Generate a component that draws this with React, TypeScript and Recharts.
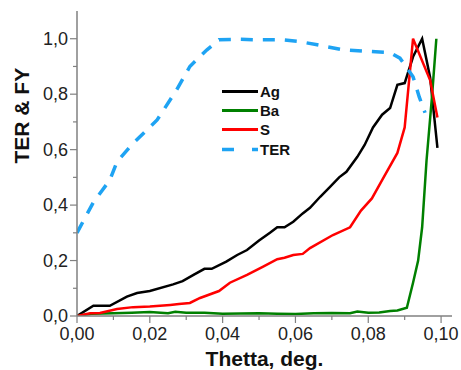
import React from 'react';
import { LineChart, Line, XAxis, YAxis, Legend } from 'recharts';

const xTicks = [0, 0.01, 0.02, 0.03, 0.04, 0.05, 0.06, 0.07, 0.08, 0.09, 0.1];
const yTicks = [0, 0.1, 0.2, 0.3, 0.4, 0.5, 0.6, 0.7, 0.8, 0.9, 1.0];

const agTheta = [0, 0.0045, 0.009, 0.0137, 0.0165, 0.02, 0.0264, 0.029, 0.032, 0.035, 0.037, 0.041, 0.044, 0.0467, 0.05, 0.053, 0.055, 0.057, 0.0594, 0.062, 0.064, 0.0668, 0.0695, 0.072, 0.074, 0.077, 0.079, 0.0813, 0.0838, 0.086, 0.088, 0.09, 0.0923, 0.0948, 0.097, 0.099];
const agValue = [0, 0.037, 0.037, 0.07, 0.083, 0.09, 0.114, 0.126, 0.148, 0.17, 0.17, 0.196, 0.22, 0.238, 0.272, 0.3, 0.32, 0.32, 0.34, 0.37, 0.39, 0.43, 0.466, 0.5, 0.52, 0.574, 0.617, 0.68, 0.726, 0.75, 0.834, 0.84, 0.935, 1.0, 0.86, 0.606];

const baTheta = [0, 0.004, 0.01, 0.015, 0.02, 0.025, 0.027, 0.03, 0.035, 0.04, 0.045, 0.05, 0.055, 0.06, 0.065, 0.07, 0.075, 0.077, 0.08, 0.083, 0.086, 0.088, 0.0906, 0.0923, 0.0937, 0.0948, 0.096, 0.0975, 0.0987];
const baValue = [0, 0.008, 0.01, 0.012, 0.014, 0.01, 0.015, 0.012, 0.012, 0.008, 0.009, 0.01, 0.008, 0.007, 0.01, 0.011, 0.01, 0.016, 0.012, 0.013, 0.018, 0.02, 0.03, 0.12, 0.2, 0.32, 0.56, 0.79, 1.0];

const sTheta = [0, 0.0036, 0.0063, 0.011, 0.0154, 0.02, 0.0256, 0.028, 0.031, 0.0338, 0.039, 0.042, 0.0467, 0.051, 0.055, 0.057, 0.0594, 0.062, 0.064, 0.0703, 0.075, 0.078, 0.081, 0.0838, 0.088, 0.09, 0.0923, 0.097, 0.099];
const sValue = [0, 0.01, 0.011, 0.025, 0.032, 0.034, 0.04, 0.043, 0.047, 0.065, 0.09, 0.12, 0.148, 0.177, 0.205, 0.21, 0.22, 0.224, 0.245, 0.292, 0.32, 0.38, 0.424, 0.49, 0.588, 0.68, 1.0, 0.85, 0.716];

const terTheta = [0, 0.0045, 0.009, 0.011, 0.015, 0.022, 0.0274, 0.031, 0.0357, 0.039, 0.045, 0.05, 0.0566, 0.061, 0.066, 0.073, 0.082, 0.086, 0.0887, 0.0923, 0.094, 0.0956];
const terValue = [0.3, 0.41, 0.49, 0.556, 0.617, 0.707, 0.816, 0.9, 0.96, 0.996, 0.998, 0.996, 0.996, 0.99, 0.978, 0.96, 0.953, 0.95, 0.93, 0.863, 0.79, 0.733];

const toPoints = (t: number[], v: number[]) => t.map((theta, i) => ({ theta, value: v[i] }));

const series = [
  { name: 'Ag', color: '#000000', data: toPoints(agTheta, agValue), dash: undefined },
  { name: 'Ba', color: '#008000', data: toPoints(baTheta, baValue), dash: undefined },
  { name: 'S', color: '#ff0000', data: toPoints(sTheta, sValue), dash: undefined },
  { name: 'TER', color: '#1ea3f3', data: toPoints(terTheta, terValue), dash: '12 10' },
];

const font = "Arial, 'Liberation Sans', sans-serif";
const axisColor = '#808080';

const fmt = (v: number, digits: number) => v.toFixed(digits).replace('.', ',');

const isMajor = (v: number, step: number) => Math.abs(Math.round(v / step) * step - v) < 1e-9;

const XTick = (props: any) => {
  const { x, y, payload } = props;
  const major = isMajor(payload.value, 0.02);
  return (
    <g>
      <line x1={x} x2={x} y1={y} y2={y + (major ? 7 : 4)} stroke={axisColor} strokeWidth={1.2} />
      {major && (
        <text x={x} y={y + 24} textAnchor="middle" fontSize={18} fontFamily={font} fill="#222">
          {fmt(payload.value, 2)}
        </text>
      )}
    </g>
  );
};

const YTick = (props: any) => {
  const { x, y, payload } = props;
  const major = isMajor(payload.value, 0.2);
  return (
    <g>
      <line x1={x} x2={x - (major ? 7 : 4)} y1={y} y2={y} stroke={axisColor} strokeWidth={1.2} />
      {major && (
        <text x={x - 9} y={y + 6} textAnchor="end" fontSize={18} fontFamily={font} fill="#222">
          {fmt(payload.value, 1)}
        </text>
      )}
    </g>
  );
};

const LegendBox = () => (
  <div style={{ fontFamily: font, fontWeight: 'bold', fontSize: 15 }}>
    {series.map((s) => (
      <div key={s.name} style={{ display: 'flex', alignItems: 'center', height: 19.2 }}>
        <svg width={40} height={19} style={{ display: 'block' }}>
          <line x1={2} x2={38} y1={9.5} y2={9.5} stroke={s.color} strokeWidth={s.dash ? 3.5 : 3}
            strokeDasharray={s.dash ? '12 18' : undefined} />
        </svg>
        <span style={{ color: '#111' }}>{s.name}</span>
      </div>
    ))}
  </div>
);

export default function App() {
  return (
    <div style={{ position: 'absolute', left: 0, top: 0, width: 461, height: 370, background: '#fff' }}>
      <LineChart width={461} height={370} margin={{ top: 11, right: 9, bottom: 24, left: 0 }}>
        <XAxis
          dataKey="theta"
          type="number"
          domain={[0, 0.103]}
          ticks={xTicks}
          interval={0}
          allowDataOverflow
          stroke={axisColor}
          strokeWidth={1.5}
          tickLine={false}
          tickSize={0}
          tickMargin={0}
          tick={<XTick />}
          height={30}
          label={{ value: 'Thetta, deg.', position: 'insideBottom', offset: -20, fontSize: 21, fontWeight: 'bold', fontFamily: font, fill: '#111' }}
        />
        <YAxis
          type="number"
          domain={[0, 1.1]}
          ticks={yTicks}
          interval={0}
          allowDataOverflow
          stroke={axisColor}
          strokeWidth={1.5}
          tickLine={false}
          tickSize={0}
          tickMargin={0}
          tick={<YTick />}
          width={77}
          label={{ value: 'TER & FY', angle: -90, position: 'insideLeft', offset: 22, fontSize: 21, fontWeight: 'bold', fontFamily: font, fill: '#111' }}
        />
        <Legend
          layout="vertical"
          align="center"
          verticalAlign="middle"
          content={<LegendBox />}
          wrapperStyle={{ left: 220, top: 82, width: 90 }}
        />
        {series.map((s) => (
          <Line
            key={s.name}
            data={s.data}
            dataKey="value"
            name={s.name}
            stroke={s.color}
            strokeWidth={s.dash ? 3.5 : 2.5}
            strokeDasharray={s.dash}
            dot={false}
            activeDot={false}
            type="linear"
            isAnimationActive={false}
          />
        ))}
      </LineChart>
    </div>
  );
}
